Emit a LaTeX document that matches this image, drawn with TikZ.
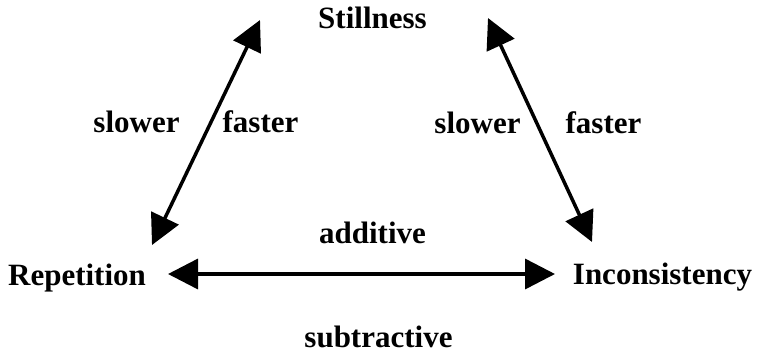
\documentclass[tikz,border=0pt]{standalone}
\usepackage{fontspec}
\setmainfont{Liberation Serif}
\usetikzlibrary{arrows.meta}
\begin{document}
\begin{tikzpicture}[x=1pt,y=-1pt,
  lbl/.style={anchor=base,inner sep=0pt,font=\fontsize{31}{36}\selectfont\bfseries},
  dbl/.style={line width=3.5pt,{Triangle[length=30pt,width=30pt]}-{Triangle[length=30pt,width=30pt]}}]
\useasboundingbox (0,0) rectangle (759,354);
\node[lbl] (still) at (372.5,28) {Stillness};
\node[lbl] (add) at (372.5,243) {additive};
\node[lbl] (sub) at (378.5,347) {subtractive};
\node[lbl] (rep) at (77,285) {Repetition};
\node[lbl] (inc) at (662.5,284) {Inconsistency};
\node[lbl] (slL) at (136.5,132) {slower};
\node[lbl] (faL) at (260.5,132) {faster};
\node[lbl] (slR) at (477.5,133) {slower};
\node[lbl] (faR) at (603.5,133) {faster};
\coordinate (lb) at (152,245);
\coordinate (lt) at (260,20);
\coordinate (rt) at (488,18);
\coordinate (rb) at (592,242);
\coordinate (hl) at (168,274);
\coordinate (hr) at (555,274);
\draw[dbl] (lb) -- (lt);
\draw[dbl] (rt) -- (rb);
\draw[dbl] (hl) -- (hr);
\end{tikzpicture}
\end{document}
